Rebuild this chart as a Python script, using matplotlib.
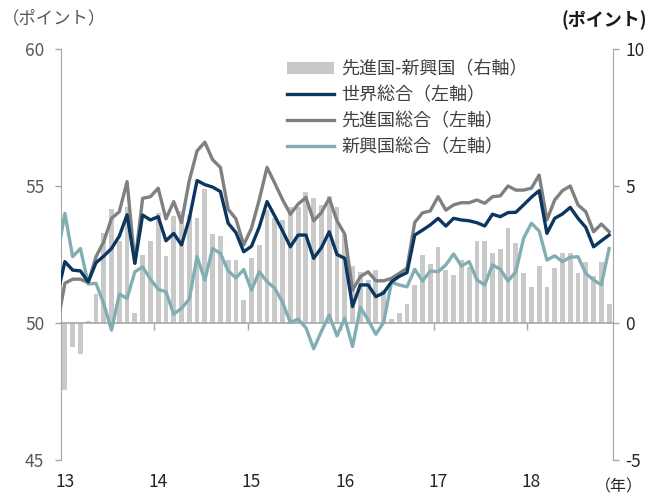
import matplotlib
matplotlib.use("Agg")
import matplotlib.pyplot as plt
import numpy as np

plt.rcParams['font.family'] = ['Noto Sans CJK JP', 'DejaVu Sans']

# months: Dec 2012 (index -1, clipped) .. Nov 2018 (index 70)
year_labels = ["13", "14", "15", "16", "17", "18"]

world = [51.0,
         52.24, 51.93, 51.9, 51.5, 52.2, 52.44, 52.72, 53.17, 53.95, 52.18, 53.94, 53.76,
         53.88, 53.0, 53.27, 52.85, 53.8, 55.2, 55.05, 54.96, 54.8, 53.64, 53.3, 52.6,
         52.8, 53.5, 54.43, 53.9, 53.36, 52.78, 53.21, 53.21, 52.36, 52.75, 53.33, 52.5,
         52.36, 50.6, 51.39, 51.39, 50.96, 51.1, 51.5, 51.7, 51.84, 53.21, 53.39, 53.58,
         53.82, 53.54, 53.82, 53.76, 53.73, 53.66, 53.54, 53.97, 53.88, 54.03, 54.04, 54.31,
         54.59, 54.83, 53.27, 53.82, 53.98, 54.22, 53.82, 53.49, 52.78, 53.0, 53.21]

advanced = [49.9,
            51.45, 51.6, 51.6, 51.47, 52.42, 52.97, 53.82, 54.06, 55.16, 52.18, 54.55, 54.61,
            54.92, 53.8, 54.43, 53.67, 55.2, 56.28, 56.6, 55.96, 55.68, 54.15, 53.8, 52.85,
            53.46, 54.5, 55.68, 55.1, 54.5, 53.97, 54.34, 54.58, 53.73, 54.03, 54.55, 53.73,
            53.24, 51.2, 51.69, 51.87, 51.54, 51.54, 51.63, 51.81, 52.0, 53.67, 54.02, 54.09,
            54.61, 54.12, 54.31, 54.39, 54.39, 54.49, 54.37, 54.61, 54.64, 55.0, 54.85, 54.85,
            54.92, 55.4, 53.76, 54.49, 54.83, 55.0, 54.31, 54.06, 53.33, 53.61, 53.33]

emerging = [52.4,
            54.0, 52.42, 52.72, 51.42, 51.45, 50.7, 49.74, 51.05, 50.9, 51.87, 52.05, 51.6,
            51.23, 51.14, 50.32, 50.54, 50.87, 52.42, 51.57, 52.72, 52.54, 51.9, 51.65, 51.95,
            51.2, 51.87, 51.51, 51.27, 50.75, 50.02, 50.14, 49.83, 49.06, 49.7, 50.29, 49.53,
            50.17, 49.14, 50.57, 50.11, 49.59, 50.02, 51.48, 51.39, 51.32, 51.96, 51.53, 51.9,
            51.87, 52.12, 52.52, 52.08, 52.24, 51.57, 51.39, 52.12, 51.96, 51.53, 51.87, 53.09,
            53.64, 53.36, 52.3, 52.45, 52.24, 52.4, 52.42, 51.81, 51.57, 51.39, 52.72]

spread = [-2.45, -0.86, -1.13, 0.07, 1.06, 3.3, 4.16, 3.0, 4.22, 0.36, 2.48, 2.98,
          4.0, 2.45, 3.9, 4.1, 3.95, 3.82, 4.9, 3.26, 3.18, 2.3, 2.3, 0.84,
          2.37, 2.85, 4.12, 3.82, 3.76, 4.25, 4.22, 4.79, 4.55, 4.31, 4.63, 4.25,
          3.21, 2.07, 1.87, 1.57, 1.95, 1.2, 0.16, 0.35, 0.69, 1.4, 2.48, 2.15,
          2.77, 1.93, 1.74, 2.31, 2.05, 2.98, 2.98, 2.57, 2.69, 3.46, 2.92, 1.81,
          1.33, 2.08, 1.33, 2.02, 2.57, 2.57, 1.81, 2.24, 1.72, 2.24, 0.69]

x_bar = np.arange(len(spread))
x_line = np.arange(len(world)) - 1

W, H = 659, 498
fig = plt.figure(figsize=(W / 100, H / 100), dpi=100)
pos = [61 / W, (H - 460) / H, (613 - 61) / W, (460 - 49) / H]

axis_gray = '#a6a6a6'

# bar axes (right scale)
axb = fig.add_axes(pos)
axb.bar(x_bar, spread, width=0.62, color='#c9c9c9', zorder=1,
        label='先進国-新興国（右軸）')
axb.set_xlim(-0.5, len(spread) - 0.5)
axb.set_ylim(-5, 10)
axb.yaxis.tick_right()
axb.set_yticks([-5, 0, 5, 10])
axb.set_yticklabels(['-5', '0', '5', '10'])
axb.tick_params(axis='y', direction='out', length=4, width=1, color=axis_gray,
                labelsize=12.5, labelcolor='#262626', pad=5)
for s in ['left', 'top']:
    axb.spines[s].set_visible(False)
axb.spines['right'].set_color(axis_gray)
axb.spines['bottom'].set_position(('data', 0))
axb.spines['bottom'].set_color(axis_gray)
axb.spines['bottom'].set_linewidth(1.2)
axb.set_xticks(np.arange(12, len(spread), 12) - 0.5)
axb.set_xticklabels([])
axb.tick_params(axis='x', direction='out', length=5, width=1, color=axis_gray)
axb.patch.set_visible(False)

# line axes (left scale)
axl = fig.add_axes(pos)
axl.patch.set_visible(False)
axl.plot(x_line, world, color='#0b3660', lw=2.4, label='世界総合（左軸）', zorder=4)
axl.plot(x_line, advanced, color='#808080', lw=2.4, label='先進国総合（左軸）', zorder=3)
axl.plot(x_line, emerging, color='#80aeb3', lw=2.4, label='新興国総合（左軸）', zorder=3)
axl.set_xlim(-0.5, len(spread) - 0.5)
axl.set_ylim(45, 60)
axl.set_yticks([45, 50, 55, 60])
axl.tick_params(axis='y', direction='out', length=4, width=1, color=axis_gray,
                labelsize=12.5, labelcolor='#595959', pad=8)
for s in ['right', 'top', 'bottom']:
    axl.spines[s].set_visible(False)
axl.spines['left'].set_color(axis_gray)
axl.set_xticks(np.arange(0, len(spread), 12))
axl.set_xticklabels(year_labels)
axl.tick_params(axis='x', length=0, labelsize=12.5, labelcolor='#262626', pad=9)

hb, lb = axb.get_legend_handles_labels()
hl, ll = axl.get_legend_handles_labels()
leg = axl.legend(hb + hl, lb + ll, loc='upper left',
                 bbox_to_anchor=(280 / W, 1 - 53 / H), bbox_transform=fig.transFigure,
                 frameon=False, fontsize=13, handlelength=2.6, handletextpad=0.4,
                 labelspacing=0.45, borderaxespad=0)
for t in leg.get_texts():
    t.set_color('#404040')

fig.text(2 / W, 1 - 18 / H, '（ポイント）', fontsize=12.5, color='#595959',
         ha='left', va='center')
fig.text(647 / W, 1 - 20 / H, '(ポイント)', fontsize=13, color='#1a1a1a',
         fontweight='bold', ha='right', va='center')
fig.text(643 / W, 1 - 487 / H, '（年）', fontsize=11.5, color='#262626',
         ha='right', va='center')

fig.savefig('out.png', dpi=100)
